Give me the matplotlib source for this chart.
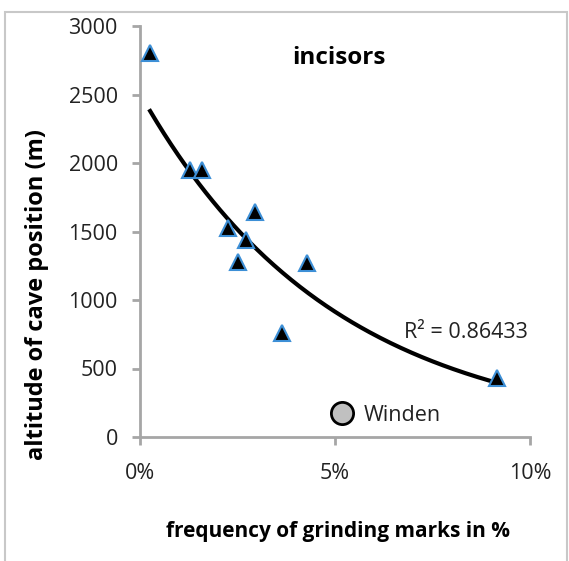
import numpy as np
import matplotlib
matplotlib.use("Agg")
import matplotlib.pyplot as plt
from matplotlib.patches import Rectangle

plt.rcParams['font.family'] = ['Open Sans', 'DejaVu Sans']

# incisor samples: grinding mark frequency (%) vs cave altitude (m)
freq = [0.26, 1.28, 1.60, 2.95, 2.25, 2.72, 2.50, 4.28, 3.64, 9.15]
altitude = [2800, 1950, 1950, 1640, 1525, 1440, 1280, 1270, 760, 430]

winden_freq = [5.18]
winden_alt = [175]

x_ticks = [0, 5, 10]
x_tick_labels = ["0%", "5%", "10%"]
y_ticks = [0, 500, 1000, 1500, 2000, 2500, 3000]

axis_grey = "#a6a6a6"

fig = plt.figure(figsize=(5.69, 5.61), dpi=100)
ax = fig.add_axes([140 / 569, 1 - 437 / 561, 390 / 569, 411 / 561])

# outer chart frame
fig.patches.append(Rectangle((5 / 569, -0.1), 562 / 569, 1.1 - 12 / 561,
                             transform=fig.transFigure, fill=False,
                             edgecolor="#c8c8c8", linewidth=1.5))

# exponential trendline (fit on log of altitude, like the spreadsheet one)
b, ln_a = np.polyfit(freq, np.log(altitude), 1)
xs = np.linspace(min(freq), max(freq), 200)
ax.plot(xs, np.exp(ln_a + b * xs), color="black", linewidth=3, zorder=2)

ax.plot(freq, altitude, linestyle="none", marker="^", markersize=12,
        markerfacecolor="black", markeredgecolor="#3d8fd6",
        markeredgewidth=1.5, zorder=3)
ax.plot(winden_freq, winden_alt, linestyle="none", marker="o", markersize=16,
        markerfacecolor="#c0c0c0", markeredgecolor="black",
        markeredgewidth=2, zorder=3)
ax.text(winden_freq[0] + 0.55, winden_alt[0] - 15, "Winden", fontsize=15.5,
        va="center", ha="left", color="#222222")

ax.text(8.36, 760, "R² = 0.86433", fontsize=15.5, ha="center", va="center",
        color="#222222")
ax.text(5.1, 2770, "incisors", fontsize=17.5, fontweight="bold",
        ha="center", va="center")

ax.set_xlim(0, 10)
ax.set_ylim(0, 3000)
ax.set_xticks(x_ticks)
ax.set_xticklabels(x_tick_labels)
ax.set_yticks(y_ticks)

for side in ["top", "right"]:
    ax.spines[side].set_visible(False)
for side in ["left", "bottom"]:
    ax.spines[side].set_color(axis_grey)
    ax.spines[side].set_linewidth(2)
ax.tick_params(axis="both", colors=axis_grey, width=2, length=6,
               labelsize=15.5, labelcolor="#222222")
ax.tick_params(axis="x", pad=13)
ax.tick_params(axis="y", pad=10)

fig.text(338 / 569, 1 - 532 / 561, "frequency of grinding marks in %",
         fontsize=15, fontweight="bold", ha="center", va="center")
fig.text(37 / 569, 1 - 294 / 561, "altitude of cave position (m)",
         fontsize=17, fontweight="bold", ha="center", va="center",
         rotation=90)

fig.savefig("out.png", dpi=100)
plt.close(fig)
